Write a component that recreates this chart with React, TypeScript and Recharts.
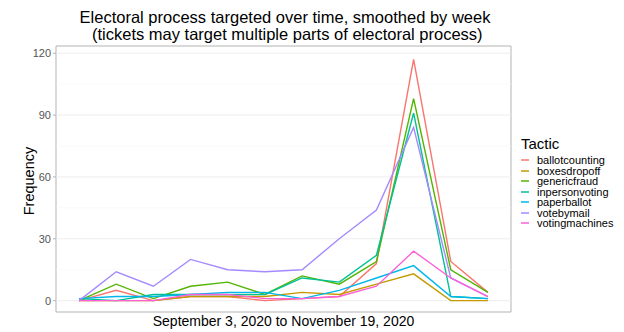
import React from "react";
import { LineChart, Line, XAxis, YAxis, ReferenceLine, ReferenceArea, Legend } from "recharts";

const weeks = [0, 1, 2, 3, 4, 5, 6, 7, 8, 9, 10, 11];
const ballotcounting = [0, 5, 0, 2, 2, 0, 1, 2, 18, 117, 19, 4];
const boxesdropoff = [0, 0, 0, 2, 2, 2, 4, 3, 8, 13, 0, 0];
const genericfraud = [0, 8, 1, 7, 9, 3, 12, 8, 19, 98, 15, 4];
const inpersonvoting = [1, 0, 3, 3, 3, 3, 11, 9, 22, 91, 2, 1];
const paperballot = [1, 2, 2, 3, 4, 4, 1, 5, 11, 17, 2, 1];
const votebymail = [0, 14, 7, 20, 15, 14, 15, 30, 44, 84, 11, 2];
const votingmachines = [0, 0, 0, 3, 3, 1, 1, 2, 7, 24, 11, 2];

const seriesNames = ["ballotcounting", "boxesdropoff", "genericfraud", "inpersonvoting", "paperballot", "votebymail", "votingmachines"];
const seriesValues = [ballotcounting, boxesdropoff, genericfraud, inpersonvoting, paperballot, votebymail, votingmachines];
const colors = ["#F8766D", "#C49A00", "#53B400", "#00C094", "#00B6EB", "#A58AFF", "#FB61D7"];
const yTicks = [0, 30, 60, 90, 120];
const minorGrid = [15, 45, 75, 105];

const data = weeks.map((w, i) => {
  const row: Record<string, number> = { week: w };
  seriesNames.forEach((n, k) => (row[n] = seriesValues[k][i]));
  return row;
});

const FONT = "'Liberation Sans', Arial, sans-serif";
const xDomain: [number, number] = [-0.62, 11.62];
const yDomain: [number, number] = [-5.5, 123.5];

const LegendContent = () => (
  <div style={{ fontFamily: FONT, color: "#000" }}>
    <div style={{ fontSize: 15, marginBottom: 3 }}>Tactic</div>
    {seriesNames.map((n, i) => (
      <div key={n} style={{ display: "flex", alignItems: "center", height: 10.5, fontSize: 11 }}>
        <svg width={16} height={10} style={{ display: "block" }}>
          <line x1={0} x2={8} y1={5} y2={5} stroke={colors[i]} strokeWidth={1.5} />
        </svg>
        <span>{n}</span>
      </div>
    ))}
  </div>
);

export default function App() {
  return (
    <div style={{ position: "absolute", left: 0, top: 0, width: 624, height: 332, background: "#fff", fontFamily: FONT }}>
      <div style={{ position: "absolute", left: 0, width: 570, top: 9, textAlign: "center", fontSize: 16.5, lineHeight: "17px", color: "#000" }}>
        <div>Electoral process targeted over time, smoothed by week</div>
        <div>&nbsp;(tickets may target multiple parts of electoral process)</div>
      </div>
      <div style={{ position: "absolute", left: 56, width: 455, top: 313, textAlign: "center", fontSize: 14, color: "#000" }}>
        September 3, 2020 to November 19, 2020
      </div>
      <div style={{ position: "absolute", left: 29, top: 181, transform: "translate(-50%, -50%) rotate(-90deg)", fontSize: 14.5, whiteSpace: "nowrap", color: "#000" }}>
        Frequency
      </div>
      <LineChart width={624} height={332} data={data} margin={{ top: 46, right: 113, bottom: 20, left: 0 }}>
        {minorGrid.map((v) => (
          <ReferenceLine key={"m" + v} y={v} stroke="#f5f5f5" strokeWidth={0.6} ifOverflow="hidden" />
        ))}
        {yTicks.map((v) => (
          <ReferenceLine key={"g" + v} y={v} stroke="#ebebeb" strokeWidth={0.9} ifOverflow="hidden" />
        ))}
        <XAxis dataKey="week" type="number" domain={xDomain} allowDataOverflow hide />
        <YAxis
          type="number"
          domain={yDomain}
          allowDataOverflow
          ticks={yTicks}
          width={56}
          axisLine={false}
          tickLine={{ stroke: "#b3b3b3" }}
          tickSize={3}
          tick={{ fill: "#555555", fontSize: 11, fontFamily: FONT }}
        />
        {seriesNames.map((n, i) => (
          <Line key={n} dataKey={n} stroke={colors[i]} strokeWidth={1.4} dot={false} isAnimationActive={false} type="linear" />
        ))}
        <ReferenceArea x1={xDomain[0]} x2={xDomain[1]} y1={yDomain[0]} y2={yDomain[1]} fill="none" stroke="#b3b3b3" strokeWidth={1} ifOverflow="visible" />
        <Legend layout="vertical" align="center" verticalAlign="middle" content={<LegendContent />} wrapperStyle={{ position: "absolute", left: 521, top: 135, width: 103 }} />
      </LineChart>
    </div>
  );
}
